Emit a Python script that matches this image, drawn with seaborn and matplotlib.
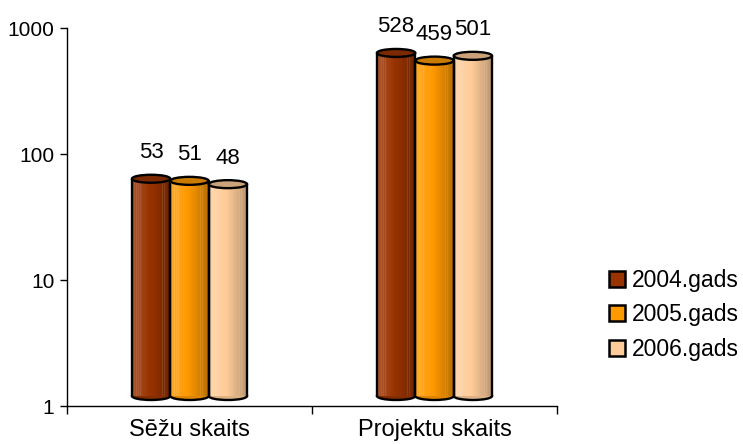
import numpy as np
import pandas as pd
import matplotlib
matplotlib.use("Agg")
import matplotlib.pyplot as plt
import seaborn as sns
from matplotlib.patches import Ellipse, Patch
from matplotlib.lines import Line2D
from matplotlib.transforms import ScaledTranslation
from matplotlib.colors import to_rgb

# ---------------- data ----------------
categories = ["Sēžu skaits", "Projektu skaits"]
years = ["2004.gads", "2005.gads", "2006.gads"]
values_2004 = [53, 528]
values_2005 = [51, 459]
values_2006 = [48, 501]
y_ticks = [1, 10, 100, 1000]
y_tick_labels = ["1", "10", "100", "1000"]

colors = ["#993300", "#FF9900", "#FFCC99"]

df = pd.DataFrame({
    "cat": categories * 3,
    "year": np.repeat(years, len(categories)),
    "value": values_2004 + values_2005 + values_2006,
})

# ---------------- style ----------------
sns.set_theme(style="white")
plt.rcParams["font.family"] = ["Liberation Sans", "DejaVu Sans"]
plt.rcParams["text.color"] = "black"

W, H, DPI = 743, 444, 100
fig = plt.figure(figsize=(W / DPI, H / DPI), dpi=DPI)
ax_l, ax_r, ax_t, ax_b = 67, 557, 28, 406
ax = fig.add_axes([ax_l / W, 1 - ax_b / H, (ax_r - ax_l) / W, (ax_b - ax_t) / H])
ax_h_px = ax_b - ax_t

ax.set_yscale("log")
sns.barplot(data=df, x="cat", y="value", hue="year", palette=colors,
            width=0.47, saturation=1, legend=False, ax=ax,
            edgecolor="none", linewidth=0)
ax.set_xlim(-0.5, 1.5)
ax.set_ylim(1, 1000)

depth_px = 10          # 3D depth shift of the cylinders
ell_px = 8             # height of cylinder caps
shift = ScaledTranslation(0, depth_px / DPI, fig.dpi_scale_trans)
to_axes = ax.transData + ax.transAxes.inverted()


def shade(rgb, t):
    rgb = np.array(rgb)
    if t < 0.45:
        k = 0.18 * (0.45 - t) / 0.45
        return rgb + (1 - rgb) * k
    k = 0.28 * (t - 0.45) / 0.55
    return rgb * (1 - k)


n = 120
patches = list(ax.patches)
for i, p in enumerate(patches):
    top = p.get_y() + p.get_height()
    p.set_y(1)
    p.set_height(top - 1)
    p.set_transform(ax.transData + shift)
    base = to_rgb(p.get_facecolor())
    # cylinder gradient
    grad = np.array([shade(base, t) for t in np.linspace(0, 1, n)])
    for s in (0.12, 0.17, 0.22, 0.78, 0.84):
        j = int(s * n)
        grad[j] = grad[j] + (1 - grad[j]) * 0.35
    img = grad[np.newaxis, :, :]
    x0 = p.get_x()
    x1 = x0 + p.get_width()
    xa0, ya_b = to_axes.transform((x0, 1))
    xa1, ya_t = to_axes.transform((x1, top))
    dy = depth_px / ax_h_px
    ya_b += dy
    ya_t += dy
    im = ax.imshow(img, extent=(xa0, xa1, ya_b, ya_t), transform=ax.transAxes,
                   aspect="auto", interpolation="bilinear", zorder=2.5)
    im.set_clip_path(p)
    xc = (xa0 + xa1) / 2
    wa = xa1 - xa0
    ha = ell_px / ax_h_px
    # bottom cap
    ax.add_patch(Ellipse((xc, ya_b), wa, ha, transform=ax.transAxes,
                         facecolor=shade(base, 0.7), edgecolor="black",
                         lw=1.7, zorder=2.2))
    # sides
    for xa in (xa0, xa1):
        ax.add_line(Line2D([xa, xa], [ya_b, ya_t], transform=ax.transAxes,
                           color="black", lw=1.7, zorder=3))
    # top cap
    ax.add_patch(Ellipse((xc, ya_t), wa, ha, transform=ax.transAxes,
                         facecolor=shade(base, 0.85), edgecolor="black",
                         lw=1.7, zorder=4))
    ax.text(xc, ya_t + 26 / ax_h_px, f"{int(round(top))}", transform=ax.transAxes,
            ha="center", va="center", fontsize=16, color="black", zorder=5)

ax.set_xlim(-0.5, 1.5)
ax.set_ylim(1, 1000)

# axes styling
sns.despine(ax=ax)
for s in ("left", "bottom"):
    ax.spines[s].set_color("black")
    ax.spines[s].set_linewidth(1.0)
ax.set_yticks(y_ticks)
ax.set_yticklabels(y_tick_labels)
ax.yaxis.set_minor_locator(matplotlib.ticker.NullLocator())
ax.tick_params(axis="y", which="major", left=True, length=5, width=1,
               color="black", labelsize=15, pad=4, labelcolor="black")
ax.set_xticks([-0.5, 0.5, 1.5])
ax.set_xticklabels(["", "", ""])
ax.set_xticks([0, 1], minor=True)
ax.set_xticklabels(categories, minor=True)
ax.tick_params(axis="x", which="major", bottom=True, length=6, width=1, color="black")
ax.tick_params(axis="x", which="minor", bottom=False, length=0, labelsize=17,
               pad=9, labelcolor="black")
ax.set_xlabel("")
ax.set_ylabel("")
ax.grid(False)

handles = [Patch(facecolor=c, edgecolor="black", linewidth=1.8) for c in colors]
fig.legend(handles, years, loc="center left", bbox_to_anchor=(600 / W, 1 - 315 / H),
           frameon=False, fontsize=16.5, handlelength=0.7, handleheight=0.7,
           handletextpad=0.3, labelspacing=0.5, borderaxespad=0)

fig.savefig("out.png", dpi=DPI)
